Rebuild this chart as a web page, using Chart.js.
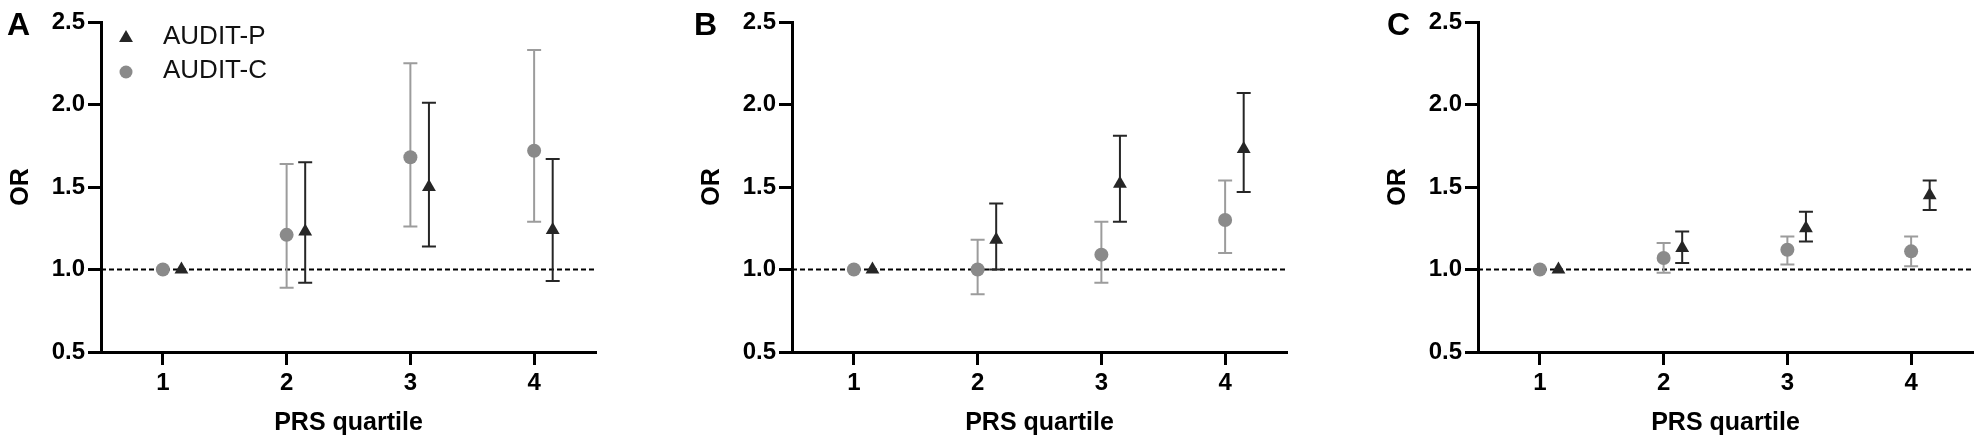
<!DOCTYPE html>
<html>
<head>
<meta charset="utf-8">
<script src="https://cdn.jsdelivr.net/npm/chart.js@4.4.1/dist/chart.umd.min.js"></script>
<style>
  body { margin: 0; background: #fff; width: 1980px; height: 446px; overflow: hidden; position: relative; }
  canvas { position: absolute; top: 0; }
</style>
</head>
<body>
<canvas id="chart-a" width="640" height="446" style="left:0px"></canvas>
<canvas id="chart-b" width="640" height="446" style="left:691px"></canvas>
<canvas id="chart-c" width="640" height="446" style="left:1377px"></canvas>
<script>
// categories / ticks
const quartiles = [1, 2, 3, 4];
const orTicks = [0.5, 1.0, 1.5, 2.0, 2.5];
const seriesNames = ['AUDIT-P', 'AUDIT-C'];

// panel A
const cA = [1.00, 1.21, 1.68, 1.72];
const cA_lo = [1.00, 0.89, 1.26, 1.29];
const cA_hi = [1.00, 1.64, 2.25, 2.33];
const pA = [1.00, 1.23, 1.50, 1.24];
const pA_lo = [1.00, 0.92, 1.14, 0.93];
const pA_hi = [1.00, 1.65, 2.01, 1.67];

// panel B
const cB = [1.00, 1.00, 1.09, 1.30];
const cB_lo = [1.00, 0.85, 0.92, 1.10];
const cB_hi = [1.00, 1.18, 1.29, 1.54];
const pB = [1.00, 1.18, 1.52, 1.73];
const pB_lo = [1.00, 1.00, 1.29, 1.47];
const pB_hi = [1.00, 1.40, 1.81, 2.07];

// panel C
const cC = [1.00, 1.07, 1.12, 1.11];
const cC_lo = [1.00, 0.98, 1.03, 1.02];
const cC_hi = [1.00, 1.16, 1.20, 1.20];
const pC = [1.00, 1.13, 1.25, 1.45];
const pC_lo = [1.00, 1.04, 1.17, 1.36];
const pC_hi = [1.00, 1.23, 1.35, 1.54];

const FONT = 'Arial, "Liberation Sans", sans-serif';
const GREY = '#8a8a8a';
const GREY_BAR = '#9c9c9c';
const DARK = '#262626';
Chart.defaults.font.family = FONT;
Chart.defaults.color = '#000';

// error bars + dashed reference line, under the markers
const errorBars = {
  id: 'errorBars',
  beforeDatasetsDraw(chart) {
    const { ctx, chartArea, scales: { y } } = chart;
    ctx.save();
    const y1 = y.getPixelForValue(1);
    ctx.strokeStyle = '#000';
    ctx.lineWidth = 2;
    ctx.setLineDash([5, 3]);
    ctx.beginPath();
    ctx.moveTo(chartArea.left, y1);
    ctx.lineTo(chartArea.right, y1);
    ctx.stroke();
    ctx.setLineDash([]);
    chart.data.datasets.forEach((ds, i) => {
      const meta = chart.getDatasetMeta(i);
      ctx.strokeStyle = ds.barColor;
      ctx.lineWidth = 2;
      meta.data.forEach((pt, j) => {
        const lo = ds.lo[j], hi = ds.hi[j];
        if (lo === hi) return;
        const top = y.getPixelForValue(hi), bot = y.getPixelForValue(lo);
        ctx.beginPath();
        ctx.moveTo(pt.x, top); ctx.lineTo(pt.x, bot);
        ctx.moveTo(pt.x - 7, top); ctx.lineTo(pt.x + 7, top);
        ctx.moveTo(pt.x - 7, bot); ctx.lineTo(pt.x + 7, bot);
        ctx.stroke();
      });
    });
    ctx.restore();
  }
};

// panel letter and (panel A only) legend
const panelExtras = {
  id: 'panelExtras',
  afterDraw(chart, args, opts) {
    const ctx = chart.ctx;
    ctx.save();
    ctx.fillStyle = '#000';
    ctx.font = 'bold 32px ' + FONT;
    ctx.textBaseline = 'alphabetic';
    ctx.fillText(opts.letter, opts.letterX, 35);
    if (opts.legend) {
      const rows = [
        { name: seriesNames[0], style: 'triangle', color: DARK, r: 8, y: 38 },
        { name: seriesNames[1], style: 'circle', color: GREY, r: 6.5, y: 72 }
      ];
      ctx.font = '26px ' + FONT;
      ctx.textBaseline = 'middle';
      rows.forEach(row => {
        ctx.fillStyle = row.color;
        Chart.helpers.drawPoint(ctx, { pointStyle: row.style, radius: row.r, rotation: 0, borderWidth: 0 }, 126, row.y);
        ctx.fillStyle = '#111';
        ctx.fillText(row.name, 163, row.y - 1);
      });
    }
    ctx.restore();
  }
};

function makePanel(id, letter, letterX, legend, c, cLo, cHi, p, pLo, pHi) {
  const data = {
    datasets: [
      {
        label: seriesNames[1],
        data: quartiles.map((q, i) => ({ x: q, y: c[i] })),
        lo: cLo, hi: cHi, barColor: GREY_BAR,
        showLine: false, pointStyle: 'circle', pointRadius: 7,
        backgroundColor: GREY, borderWidth: 0
      },
      {
        label: seriesNames[0],
        data: quartiles.map((q, i) => ({ x: q + 0.15, y: p[i] })),
        lo: pLo, hi: pHi, barColor: DARK,
        showLine: false, pointStyle: 'triangle', pointRadius: 8,
        backgroundColor: DARK, borderWidth: 0
      }
    ]
  };
  const config = {
    type: 'line',
    data,
    options: {
      responsive: false,
      animation: false,
      devicePixelRatio: 1,
      clip: false,
      layout: { padding: { top: 22, right: 44, left: 0, bottom: 0 } },
      plugins: {
        legend: { display: false },
        tooltip: { enabled: false },
        panelExtras: { letter, letterX, legend }
      },
      scales: {
        x: {
          type: 'linear', min: 0.5, max: 4.5,
          afterBuildTicks: s => { s.ticks = quartiles.map(v => ({ value: v })); },
          afterFit: s => { s.height = 94; },
          grid: { drawOnChartArea: false, drawTicks: true, tickLength: 13, tickWidth: 3, tickColor: '#000' },
          border: { display: true, color: '#000', width: 3 },
          ticks: { font: { size: 24, weight: 'bold' }, color: '#000', padding: 4, callback: v => String(v) },
          title: { display: true, text: 'PRS quartile', font: { size: 25, weight: 'bold' }, color: '#000', padding: { top: 0, bottom: 8 } }
        },
        y: {
          type: 'linear', min: 0.5, max: 2.5,
          afterBuildTicks: s => { s.ticks = orTicks.map(v => ({ value: v })); },
          afterFit: s => { s.width = 101; },
          grid: { drawOnChartArea: false, drawTicks: true, tickLength: 13, tickWidth: 3, tickColor: '#000' },
          border: { display: true, color: '#000', width: 3 },
          ticks: { font: { size: 24, weight: 'bold' }, color: '#000', padding: 3, callback: v => v.toFixed(1) },
          title: { display: true, text: 'OR', font: { size: 25, weight: 'bold' }, color: '#000', padding: { top: 6, bottom: 0 } }
        }
      }
    },
    plugins: [errorBars, panelExtras]
  };
  return new Chart(document.getElementById(id), config);
}

makePanel('chart-a', 'A', 7, true, cA, cA_lo, cA_hi, pA, pA_lo, pA_hi);
makePanel('chart-b', 'B', 3, false, cB, cB_lo, cB_hi, pB, pB_lo, pB_hi);
makePanel('chart-c', 'C', 10, false, cC, cC_lo, cC_hi, pC, pC_lo, pC_hi);
</script>
</body>
</html>
